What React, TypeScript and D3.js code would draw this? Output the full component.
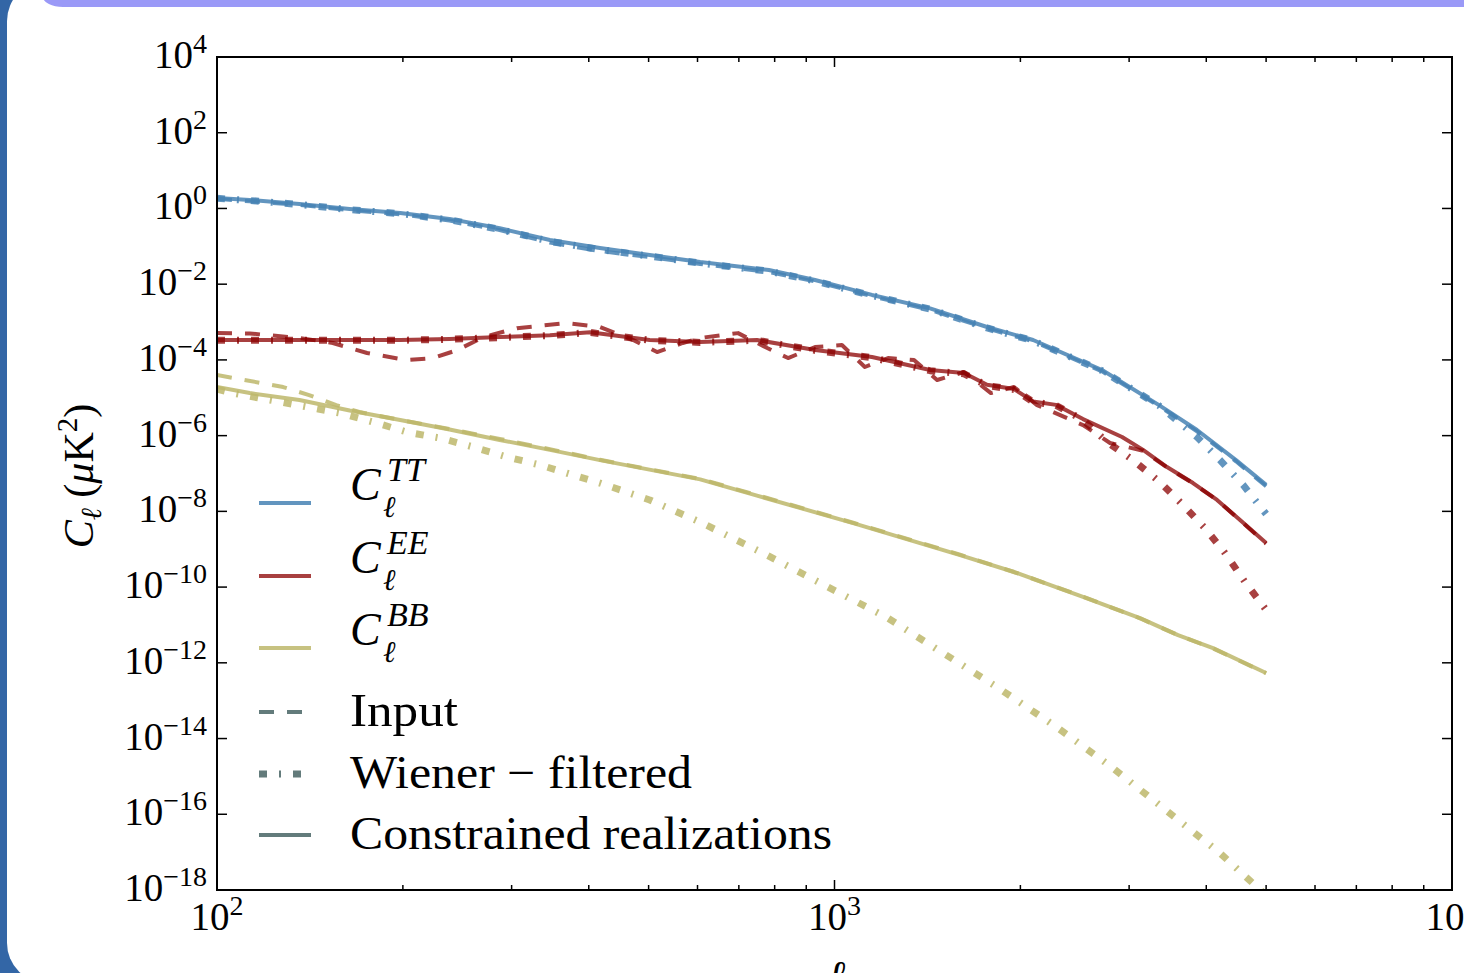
import React from 'react';
import * as d3 from 'd3';

// ---------- data ----------
const ellTT = [100, 113, 136, 164, 198, 238, 287, 346, 417, 502, 606, 783, 930, 1150, 1428, 1766, 2097, 2712, 3354, 3864, 4469, 5000];
const ttConstrained = [1.89, 1.67, 1.31, 0.97, 0.76, 0.53, 0.30, 0.147, 0.090, 0.059, 0.0385, 0.0237, 0.0129, 0.0052, 0.0023, 7.4e-4, 3.35e-4, 5.4e-5, 6.4e-6, 1.41e-6, 2.26e-7, 5.0e-8];
const ttInput = [1.80, 1.55, 1.25, 0.90, 0.70, 0.48, 0.27, 0.125, 0.075, 0.052, 0.034, 0.021, 0.0118, 0.0048, 0.0021, 6.8e-4, 3.1e-4, 5.0e-5, 6.0e-6, 1.3e-6, 2.1e-7, 4.6e-8];
const ellTTWiener = [100, 113, 136, 164, 198, 238, 287, 346, 417, 502, 606, 783, 930, 1150, 1428, 1766, 2097, 2712, 3354, 3864, 4211, 4589, 5000];
const ttWiener = [1.85, 1.62, 1.27, 0.93, 0.73, 0.50, 0.28, 0.135, 0.082, 0.055, 0.036, 0.022, 0.0122, 0.0050, 0.0022, 7.0e-4, 3.2e-4, 5.2e-5, 6.2e-6, 9.2e-7, 2.26e-7, 5.0e-8, 8.5e-9];

const ellEE = [100, 136, 198, 238, 287, 346, 402, 502, 606, 749, 930, 1150, 1428, 1621, 1766, 1953, 2097, 2284, 2526, 2922, 3160, 3455, 3807, 4164, 4537, 5000];
const eeConstrained = [3.35e-4, 3.35e-4, 3.35e-4, 3.56e-4, 4.0e-4, 4.5e-4, 5.4e-4, 3.35e-4, 2.96e-4, 3.35e-4, 1.82e-4, 1.19e-4, 5.4e-5, 4.5e-5, 2.2e-5, 1.7e-5, 8.0e-6, 6.5e-6, 2.74e-6, 9.2e-7, 4.2e-7, 1.48e-7, 5.6e-8, 2.0e-8, 5.9e-9, 1.46e-9];
const ellEEWiener = [100, 136, 198, 238, 287, 346, 402, 502, 606, 749, 930, 1150, 1428, 1621, 1766, 1953, 2097, 2284, 2526, 2763, 3044, 3367, 3668, 3981, 4290, 4622, 5000];
const eeWiener = [3.3e-4, 3.3e-4, 3.3e-4, 3.5e-4, 3.9e-4, 4.4e-4, 5.3e-4, 3.3e-4, 2.9e-4, 3.3e-4, 1.78e-4, 1.15e-4, 5.2e-5, 4.3e-5, 2.1e-5, 1.65e-5, 7.8e-6, 6.3e-6, 2.6e-6, 6.8e-7, 2.26e-7, 5.9e-8, 1.47e-8, 3.6e-9, 7.9e-10, 1.36e-10, 2.5e-11];
const ellEEInput = [100, 113, 136, 154, 175, 203, 224, 245, 270, 306, 369, 417, 472, 516, 568, 606, 698, 772, 841, 930, 1028, 1120, 1221, 1345, 1466, 1621, 1792, 1953, 2128, 2526, 2794, 3160, 3455, 3807, 4164, 4537, 5000];
const eeInput = [5.1e-4, 5.0e-4, 3.8e-4, 2.8e-4, 1.52e-4, 9.9e-5, 1.12e-4, 1.82e-4, 4.0e-4, 6.9e-4, 9.4e-4, 7.4e-4, 3.35e-4, 1.61e-4, 2.8e-4, 3.8e-4, 5.1e-4, 2.19e-4, 1.12e-4, 2.19e-4, 2.47e-4, 6.5e-5, 1.12e-4, 9.9e-5, 2.94e-5, 4.8e-5, 1.33e-5, 1.92e-5, 6.4e-6, 1.9e-6, 6.4e-7, 4.0e-7, 1.45e-7, 5.5e-8, 2.0e-8, 5.8e-9, 1.4e-9];

const ellBB = [100, 113, 136, 164, 198, 238, 287, 346, 417, 606, 749, 1072, 1597, 1953, 2526, 3124, 3600, 4102, 5000];
const bbConstrained = [1.92e-5, 1.33e-5, 8.7e-6, 4.6e-6, 2.6e-6, 1.45e-6, 7.7e-7, 4.2e-7, 2.26e-7, 7.0e-8, 2.6e-8, 4.9e-9, 7.0e-10, 2.5e-10, 5.5e-11, 1.52e-11, 5.4e-12, 2.45e-12, 5.4e-13];
const ellBBInput = [100, 128, 141, 156, 170, 198, 238, 287, 346, 417, 606, 749, 1072, 1597, 1953, 2526, 3124, 3600, 4102, 5000];
const bbInput = [4.0e-5, 1.92e-5, 1.18e-5, 6.4e-6, 4.2e-6, 2.6e-6, 1.5e-6, 8.2e-7, 4.4e-7, 2.3e-7, 7.2e-8, 2.7e-8, 5.0e-9, 7.2e-10, 2.5e-10, 5.6e-11, 1.5e-11, 5.4e-12, 2.4e-12, 5.3e-13];
const ellBBWiener = [100, 106, 140, 158, 179, 203, 230, 260, 295, 334, 377, 417, 502, 606, 766, 962, 1212, 1499, 1854, 2301, 2825, 3455, 4211, 4640, 5000];
const bbWiener = [1.70e-5, 1.33e-5, 5.7e-6, 3.95e-6, 2.29e-6, 1.24e-6, 8.6e-7, 5.0e-7, 2.72e-7, 1.67e-7, 9.1e-8, 5.6e-8, 2.0e-8, 5.2e-9, 7.9e-10, 1.13e-10, 1.62e-11, 1.81e-12, 2.03e-13, 1.89e-14, 1.66e-15, 1.21e-16, 9.4e-18, 2.19e-18, 7.3e-19];

const yTickExponents = [4, 2, 0, -2, -4, -6, -8, -10, -12, -14, -16, -18];
const xTickExponents = [2, 3, 4];
const xMinorTicks = [200, 300, 400, 500, 600, 700, 800, 900, 2000, 3000, 4000, 5000, 6000, 7000, 8000, 9000];

const spectraLabels = ['TT', 'EE', 'BB'];
const styleLabels = ['Input', 'Wiener \u2212 filtered', 'Constrained realizations'];

// ---------- styling ----------
const W = 1464, H = 973;
const M = { left: 217, right: 1452, top: 57, bottom: 890 };
const COLORS: Record<string, string> = { TT: '#4682b4', EE: '#8b0000', BB: '#bdb76b', gray: '#2f4f4f' };
const ALPHAS: Record<string, number> = { TT: 0.85, EE: 0.75, BB: 0.85, gray: 0.75 };
const DASHED = '15,13';
const DASHDOT = '8,12,2,12';
const FONT = '"Liberation Serif", "Times New Roman", serif';

const zip = (ls: number[], cs: number[]) => ls.map((l, i) => ({ l, c: cs[i] }));

const series = [
  { key: 'TT', kind: 'input', data: zip(ellTT, ttInput) },
  { key: 'TT', kind: 'wiener', data: zip(ellTTWiener, ttWiener) },
  { key: 'TT', kind: 'constrained', data: zip(ellTT, ttConstrained) },
  { key: 'EE', kind: 'input', data: zip(ellEEInput, eeInput) },
  { key: 'EE', kind: 'wiener', data: zip(ellEEWiener, eeWiener) },
  { key: 'EE', kind: 'constrained', data: zip(ellEE, eeConstrained) },
  { key: 'BB', kind: 'input', data: zip(ellBBInput, bbInput) },
  { key: 'BB', kind: 'wiener', data: zip(ellBBWiener, bbWiener) },
  { key: 'BB', kind: 'constrained', data: zip(ellBB, bbConstrained) },
];

const kindStyle = (kind: string) =>
  kind === 'input' ? { dash: DASHED, width: 4 } : kind === 'wiener' ? { dash: DASHDOT, width: 7 } : { dash: undefined, width: 4 };

export default function App() {
  const x = d3.scaleLog().domain([100, 10000]).range([M.left, M.right]);
  const y = d3.scaleLog().domain([1e-18, 1e4]).range([M.bottom, M.top]);
  const line = d3.line<{ l: number; c: number }>().x(d => x(d.l)).y(d => y(d.c));

  const legendX0 = 259, legendX1 = 311, legendTextX = 350;
  const mathRows = [503, 576, 648];
  const textRows = [712, 774, 835];
  const textLengths = [108, 342, 482];
  const legendKinds = ['input', 'wiener', 'constrained'];

  return (
    <svg width={W} height={H} style={{ position: 'absolute', left: 0, top: 0 }} fontFamily={FONT}>
      <defs>
        <clipPath id="plotclip">
          <rect x={M.left} y={M.top} width={M.right - M.left} height={M.bottom - M.top} />
        </clipPath>
      </defs>
      {/* slide frame */}
      <rect width={W} height={H} fill="#3366a6" />
      <rect x={7} y={-19} width={1500} height={1002} rx={40} fill="#ffffff" />
      <rect x={43} y={-13} width={1500} height={20} rx={20} fill="#9a99f7" />

      {/* lines */}
      <g clipPath="url(#plotclip)" fill="none">
        {series.map((s, i) => {
          const st = kindStyle(s.kind);
          return (
            <path key={i} d={line(s.data) || ''} stroke={COLORS[s.key]} strokeOpacity={ALPHAS[s.key]}
              strokeWidth={st.width} strokeDasharray={st.dash} strokeLinejoin="round" />
          );
        })}
      </g>

      {/* ticks */}
      <g stroke="#000" strokeWidth={1.5}>
        {yTickExponents.map(e => (
          <g key={'yt' + e}>
            <line x1={M.left} x2={M.left + 10} y1={y(Math.pow(10, e))} y2={y(Math.pow(10, e))} />
            <line x1={M.right} x2={M.right - 10} y1={y(Math.pow(10, e))} y2={y(Math.pow(10, e))} />
          </g>
        ))}
        {xTickExponents.map(e => (
          <g key={'xt' + e}>
            <line x1={x(Math.pow(10, e))} x2={x(Math.pow(10, e))} y1={M.bottom} y2={M.bottom - 10} />
            <line x1={x(Math.pow(10, e))} x2={x(Math.pow(10, e))} y1={M.top} y2={M.top + 10} />
          </g>
        ))}
        {xMinorTicks.map(v => (
          <g key={'xm' + v}>
            <line x1={x(v)} x2={x(v)} y1={M.bottom} y2={M.bottom - 5} />
            <line x1={x(v)} x2={x(v)} y1={M.top} y2={M.top + 5} />
          </g>
        ))}
      </g>
      <rect x={M.left} y={M.top} width={M.right - M.left} height={M.bottom - M.top} fill="none" stroke="#000" strokeWidth={2} />

      {/* tick labels */}
      <g fill="#000">
        {yTickExponents.map(e => (
          <text key={'yl' + e} x={207} y={y(Math.pow(10, e)) + 11} textAnchor="end" fontSize={39}>
            <tspan>10</tspan>
            <tspan dy={-15} fontSize={28}>{e < 0 ? '\u2212' + Math.abs(e) : String(e)}</tspan>
          </text>
        ))}
        {xTickExponents.map(e => (
          <text key={'xl' + e} x={x(Math.pow(10, e))} y={930} textAnchor="middle" fontSize={39}>
            <tspan>10</tspan>
            <tspan dy={-15} fontSize={28}>{String(e)}</tspan>
          </text>
        ))}
      </g>

      {/* axis labels */}
      <text transform="translate(93,476) rotate(-90)" textAnchor="middle" fontSize={42}>
        <tspan fontStyle="italic">C</tspan>
        <tspan fontStyle="italic" fontSize={29} dy={8}>ℓ</tspan>
        <tspan dy={-8}> (</tspan>
        <tspan fontStyle="italic">μ</tspan>
        <tspan>K</tspan>
        <tspan fontSize={29} dy={-16}>2</tspan>
        <tspan dy={16}>)</tspan>
      </text>
      <text x={x(1000) + 2} y={990} textAnchor="middle" fontSize={42} fontStyle="italic">ℓ</text>

      {/* legend */}
      <g>
        {spectraLabels.map((lab, i) => {
          const yy = mathRows[i];
          return (
            <g key={'lg' + lab}>
              <line x1={legendX0} x2={legendX1} y1={yy} y2={yy} stroke={COLORS[lab]} strokeOpacity={ALPHAS[lab]} strokeWidth={4} />
              <text x={legendTextX} y={yy - 3} fontSize={46} fontStyle="italic">C</text>
              <text x={legendTextX + 33} y={yy + 14} fontSize={30} fontStyle="italic">ℓ</text>
              <text x={legendTextX + 37} y={yy - 22} fontSize={34} fontStyle="italic">{lab}</text>
            </g>
          );
        })}
        {styleLabels.map((lab, i) => {
          const yy = textRows[i];
          const st = kindStyle(legendKinds[i]);
          return (
            <g key={'ls' + i}>
              <line x1={legendX0} x2={legendX1} y1={yy} y2={yy} stroke={COLORS.gray} strokeOpacity={ALPHAS.gray}
                strokeWidth={st.width} strokeDasharray={st.dash} />
              <text x={legendTextX} y={yy + 14} fontSize={46} textLength={textLengths[i]} lengthAdjust="spacingAndGlyphs">{lab}</text>
            </g>
          );
        })}
      </g>
    </svg>
  );
}
